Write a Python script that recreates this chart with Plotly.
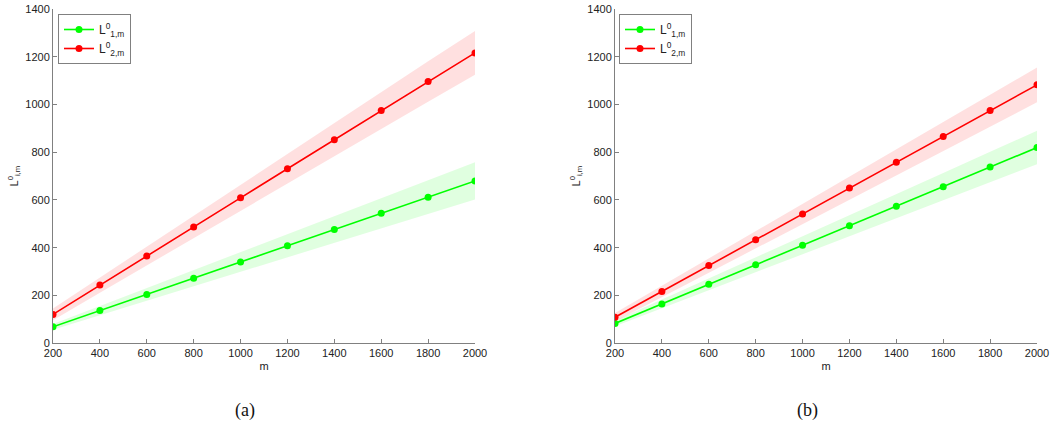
import plotly.graph_objects as go

m_vals = [200, 400, 600, 800, 1000, 1200, 1400, 1600, 1800, 2000]

# Panel (a)
a_L1 = [68, 136, 204, 272, 340, 408, 476, 544, 612, 680]
a_L1_upper = [80, 155, 231, 306, 381, 457, 532, 607, 683, 758]
a_L1_lower = [56, 117, 177, 238, 299, 359, 420, 481, 541, 602]
a_L2 = [120, 243, 365, 487, 609, 731, 853, 975, 1097, 1217]
a_L2_upper = [145, 275, 405, 534, 664, 793, 923, 1052, 1182, 1309]
a_L2_lower = [95, 211, 325, 440, 554, 669, 783, 898, 1012, 1125]

# Panel (b)
b_L1 = [82, 164, 246, 328, 410, 492, 574, 656, 738, 820]
b_L1_upper = [94, 182, 271, 359, 448, 536, 625, 713, 802, 890]
b_L1_lower = [70, 146, 221, 297, 372, 448, 523, 599, 674, 750]
b_L2 = [108, 216, 325, 433, 541, 650, 758, 866, 975, 1083]
b_L2_upper = [126, 240, 355, 469, 583, 699, 813, 927, 1042, 1156]
b_L2_lower = [90, 192, 295, 397, 499, 601, 703, 805, 908, 1010]

x_ticks = [200, 400, 600, 800, 1000, 1200, 1400, 1600, 1800, 2000]
y_ticks = [0, 200, 400, 600, 800, 1000, 1200, 1400]
names = ["L<sup>0</sup><sub>1,m</sub>", "L<sup>0</sup><sub>2,m</sub>"]
captions = ["(a)", "(b)"]

GREEN = "#00ff00"
RED = "#ff0000"
GREEN_FILL = "rgba(0,255,0,0.12)"
RED_FILL = "rgba(255,0,0,0.12)"

FONT = "Liberation Sans, Arial"
TXT = "#222222"

fig = go.Figure()

panels = [
    ("x", "y", [(a_L1, a_L1_upper, a_L1_lower), (a_L2, a_L2_upper, a_L2_lower)], "legend"),
    ("x2", "y2", [(b_L1, b_L1_upper, b_L1_lower), (b_L2, b_L2_upper, b_L2_lower)], "legend2"),
]

for xa, ya, series, leg in panels:
    for (vals, up, lo), fcol in zip(series, [GREEN_FILL, RED_FILL]):
        fig.add_trace(go.Scatter(
            x=m_vals + m_vals[::-1], y=up + lo[::-1],
            fill="toself", fillcolor=fcol, line=dict(width=0),
            mode="lines", hoverinfo="skip", showlegend=False,
            xaxis=xa, yaxis=ya))
    for (vals, up, lo), col, nm in zip(series, [GREEN, RED], names):
        fig.add_trace(go.Scatter(
            x=m_vals, y=vals, mode="lines+markers", name=nm,
            line=dict(color=col, width=1.6),
            marker=dict(color=col, size=7, symbol="circle"),
            showlegend=True, legend=leg, xaxis=xa, yaxis=ya))

axis_common = dict(
    showgrid=False, zeroline=False, showline=True, linecolor="#808080", linewidth=1,
    ticks="inside", ticklen=4, tickcolor="#808080", automargin=False,
    ticklabeloverflow="allow",
    tickfont=dict(family=FONT, size=11, color=TXT),
)

def xtitle():
    return dict(text="m", standoff=4, font=dict(family=FONT, size=11, color=TXT))

def ytitle():
    return dict(text="L<sup>0</sup><sub>i,m</sub>", standoff=4, font=dict(family=FONT, size=11, color=TXT))

legend_common = dict(xanchor="left", yanchor="top", bordercolor="#808080", borderwidth=1,
                     bgcolor="white", font=dict(family=FONT, size=12, color=TXT), itemwidth=30)

W, H = 1051, 431
fig.update_layout(
    width=W, height=H,
    margin=dict(l=0, r=0, t=0, b=0),
    paper_bgcolor="white", plot_bgcolor="white",
    showlegend=True,
    xaxis=dict(domain=[53 / W, 475 / W], range=[200, 2000], tickvals=x_ticks,
               anchor="y", title=xtitle(), **axis_common),
    yaxis=dict(domain=[1 - 343 / H, 1 - 9.3 / H], range=[0, 1400], tickvals=y_ticks,
               anchor="x", title=ytitle(), **axis_common),
    xaxis2=dict(domain=[615 / W, 1037 / W], range=[200, 2000], tickvals=x_ticks,
                anchor="y2", title=xtitle(), **axis_common),
    yaxis2=dict(domain=[1 - 343 / H, 1 - 9.3 / H], range=[0, 1400], tickvals=y_ticks,
                anchor="x2", title=ytitle(), **axis_common),
    legend=dict(x=58 / W, y=1 - 14 / H, **legend_common),
    legend2=dict(x=619 / W, y=1 - 14 / H, **legend_common),
)

for cap, xc in zip(captions, [245 / W, 807 / W]):
    fig.add_annotation(text=cap, x=xc, y=1 - 410 / H, xref="paper", yref="paper",
                       xanchor="center", yanchor="middle", showarrow=False,
                       font=dict(family="Liberation Serif, DejaVu Serif", size=18, color="#111111"))

# remove the default 8px page margin so the figure sits at the window's corner
fig.write_html("out.html", config={"displayModeBar": False},
               post_script="document.body.style.margin='0';")
